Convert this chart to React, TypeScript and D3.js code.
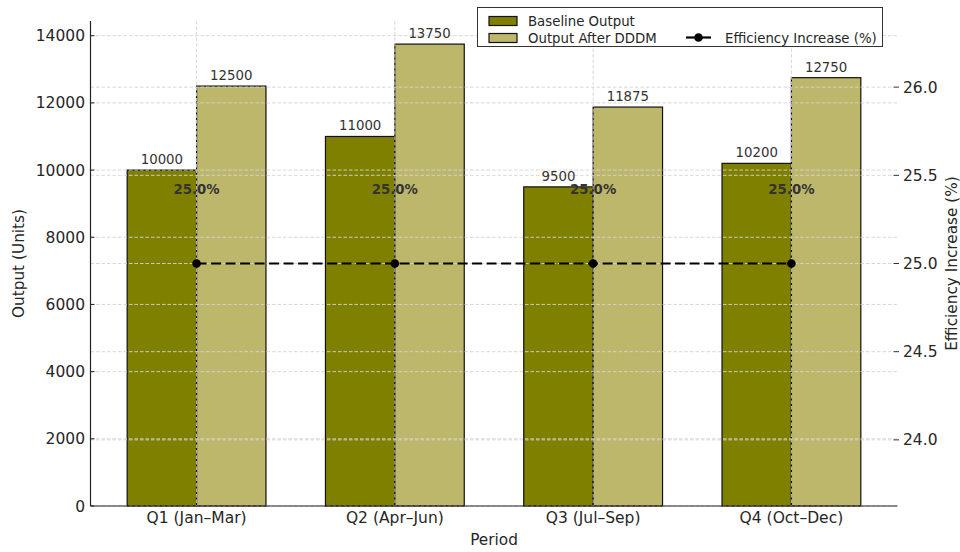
import React from "react";
import * as d3 from "d3";

const categories = ["Q1 (Jan–Mar)", "Q2 (Apr–Jun)", "Q3 (Jul–Sep)", "Q4 (Oct–Dec)"];
const baselineOutput = [10000, 11000, 9500, 10200];
const afterOutput = [12500, 13750, 11875, 12750];
const efficiency = [25.0, 25.0, 25.0, 25.0];
const leftTicks = [0, 2000, 4000, 6000, 8000, 10000, 12000, 14000];
const rightTicks = [24.0, 24.5, 25.0, 25.5, 26.0];

const W = 960;
const H = 552;
const M = { left: 90.5, right: 897.5, top: 21, bottom: 506 };
const FONT = "DejaVu Sans, sans-serif";
const TXT = "#262626";
const GRID = "#d4d4d4";

export default function App() {
  const x = d3.scaleLinear().domain([-0.535, 3.535]).range([M.left, M.right]);
  const yL = d3.scaleLinear().domain([0, 14437.5]).range([M.bottom, M.top]);
  const yR = d3.scaleLinear().domain([23.625, 26.375]).range([M.bottom, M.top]);
  const bw = 0.35;
  const barW = x(bw) - x(0);

  const line = d3
    .line<number>()
    .x((_, i) => x(i))
    .y((d) => yR(d));

  return (
    <svg
      width={W}
      height={H}
      style={{ position: "absolute", left: 0, top: 0, background: "#fff" }}
      fontFamily={FONT}
    >
      <rect x={0} y={0} width={W} height={H} fill="#fff" />
      {/* bars */}
      {categories.map((c, i) => (
        <g key={c}>
          <rect
            x={x(i - bw)}
            y={yL(baselineOutput[i])}
            width={barW}
            height={yL(0) - yL(baselineOutput[i])}
            fill="#808000"
            stroke="#111"
            strokeWidth={1.2}
          />
          <rect
            x={x(i)}
            y={yL(afterOutput[i])}
            width={barW}
            height={yL(0) - yL(afterOutput[i])}
            fill="#BDB76B"
            stroke="#111"
            strokeWidth={1.2}
          />
        </g>
      ))}
      {/* grid left */}
      {leftTicks.map((t) => (
        <line
          key={"gl" + t}
          x1={M.left}
          x2={M.right}
          y1={yL(t)}
          y2={yL(t)}
          stroke={GRID}
          strokeWidth={0.9}
          strokeDasharray="3.5,2"
        />
      ))}
      {/* grid right */}
      {rightTicks.map((t) => (
        <line
          key={"gr" + t}
          x1={M.left}
          x2={M.right - 4}
          y1={yR(t)}
          y2={yR(t)}
          stroke={GRID}
          strokeWidth={0.9}
          strokeDasharray="3.5,2"
        />
      ))}
      {/* vertical grid */}
      {categories.map((c, i) => (
        <line
          key={"gv" + c}
          x1={x(i)}
          x2={x(i)}
          y1={M.top}
          y2={M.bottom}
          stroke={GRID}
          strokeWidth={0.9}
          strokeDasharray="3.5,2"
        />
      ))}
      {/* bar value labels */}
      {categories.map((c, i) => (
        <g key={"vl" + c} fontSize={13.3} fill="#333" textAnchor="middle">
          <text x={x(i - bw / 2)} y={yL(baselineOutput[i]) - 6}>
            {baselineOutput[i]}
          </text>
          <text x={x(i + bw / 2)} y={yL(afterOutput[i]) - 6}>
            {afterOutput[i]}
          </text>
        </g>
      ))}
      {/* efficiency line */}
      <path
        d={line(efficiency) || ""}
        fill="none"
        stroke="#000"
        strokeWidth={2.2}
        strokeDasharray="10,4.5"
      />
      {efficiency.map((v, i) => (
        <circle key={"pt" + i} cx={x(i)} cy={yR(v)} r={4.3} fill="#000" />
      ))}
      {efficiency.map((v, i) => (
        <text
          key={"el" + i}
          x={x(i)}
          y={yR(v + 0.394)}
          fontSize={13.3}
          fontWeight="bold"
          fill="#333"
          textAnchor="middle"
        >
          {v.toFixed(1)}%
        </text>
      ))}
      {/* spines */}
      <line x1={M.left} x2={M.left} y1={M.top} y2={M.bottom} stroke="#222" strokeWidth={1.2} />
      <line x1={M.left} x2={M.right} y1={M.bottom} y2={M.bottom} stroke="#222" strokeWidth={1.2} />
      {/* left ticks */}
      {leftTicks.map((t) => (
        <g key={"lt" + t}>
          <line x1={M.left} x2={M.left + 4} y1={yL(t)} y2={yL(t)} stroke="#222" strokeWidth={1} />
          <text
            x={M.left - 5.5}
            y={yL(t)}
            dy="0.36em"
            textAnchor="end"
            fontSize={15.5}
            fill={TXT}
          >
            {t}
          </text>
        </g>
      ))}
      {/* right ticks */}
      {rightTicks.map((t) => (
        <g key={"rt" + t}>
          <line x1={M.right - 4} x2={M.right + 1.5} y1={yR(t)} y2={yR(t)} stroke="#333" strokeWidth={1} />
          <text x={M.right + 5.5} y={yR(t)} dy="0.36em" fontSize={15.5} fill={TXT}>
            {t.toFixed(1)}
          </text>
        </g>
      ))}
      {/* x tick labels */}
      {categories.map((c, i) => (
        <text key={"xt" + c} x={x(i)} y={M.bottom + 17} textAnchor="middle" fontSize={15.5} fill={TXT}>
          {c}
        </text>
      ))}
      {/* axis labels */}
      <text x={(M.left + M.right) / 2} y={545} textAnchor="middle" fontSize={15.3} fill={TXT}>
        Period
      </text>
      <text
        transform={`translate(24,${(M.top + M.bottom) / 2}) rotate(-90)`}
        textAnchor="middle"
        fontSize={15.3}
        fill={TXT}
      >
        Output (Units)
      </text>
      <text
        transform={`translate(956.5,${(M.top + M.bottom) / 2}) rotate(-90)`}
        textAnchor="middle"
        fontSize={15.3}
        fill={TXT}
      >
        Efficiency Increase (%)
      </text>
      {/* legend */}
      <g fontSize={13.3} fill={TXT}>
        <rect x={477.5} y={7.5} width={405} height={39} fill="#fff" stroke="#333" strokeWidth={1} />
        <rect x={489} y={16.5} width={28} height={9} fill="#808000" stroke="#111" strokeWidth={1.2} />
        <text x={528} y={25.5}>Baseline Output</text>
        <rect x={489} y={33.5} width={28} height={9} fill="#BDB76B" stroke="#111" strokeWidth={1.2} />
        <text x={528} y={42.5}>Output After DDDM</text>
        <line x1={686} x2={711} y1={37.5} y2={37.5} stroke="#000" strokeWidth={2.2} />
        <circle cx={698.5} cy={37.5} r={4.3} fill="#000" />
        <text x={725} y={42.5}>Efficiency Increase (%)</text>
      </g>
    </svg>
  );
}
